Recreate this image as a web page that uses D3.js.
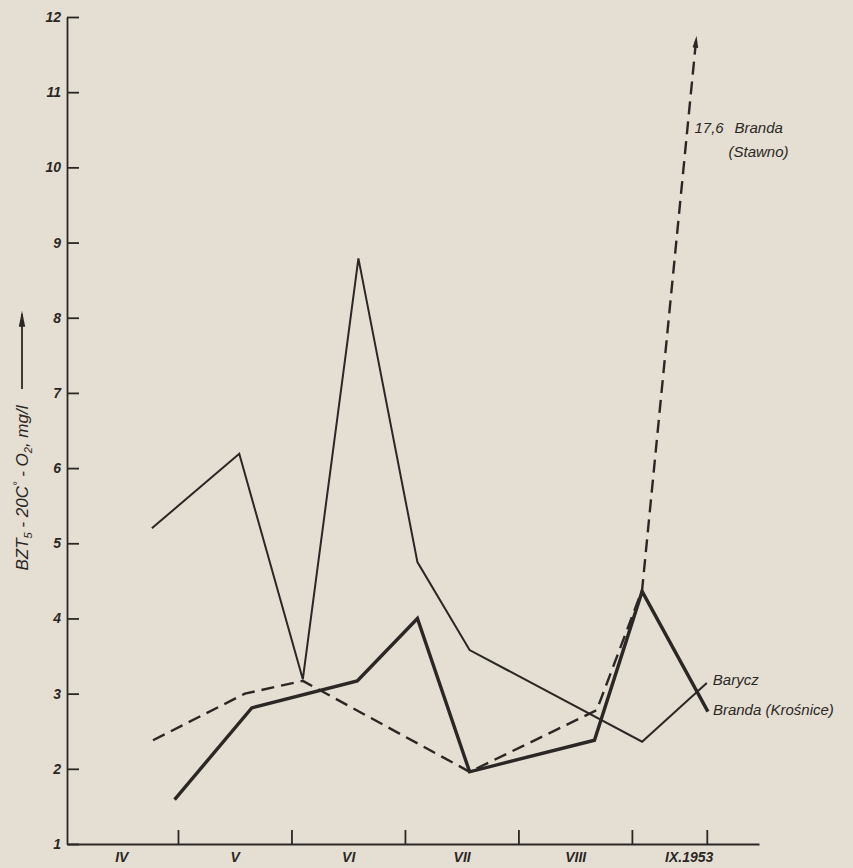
<!DOCTYPE html>
<html>
<head>
<meta charset="utf-8">
<script src="https://cdn.jsdelivr.net/npm/d3@7"></script>
<style>
  body { margin: 0; background: #e5dfd3; }
  svg { display: block; }
  .axis text { font-family: "Liberation Sans Narrow", "Liberation Sans", sans-serif; font-style: italic; font-weight: bold; fill: #2b2724; }
  .axis path, .axis line { stroke: #2b2724; }
  .note { font-family: "Liberation Sans Narrow", "Liberation Sans", sans-serif; font-style: italic; fill: #2b2724; }
</style>
</head>
<body>
<div id="chart"></div>
<script>
// months (4 = start of April), values in mg/l
const yTickValues = [1, 2, 3, 4, 5, 6, 7, 8, 9, 10, 11, 12];
const monthTicks = [5, 6, 7, 8, 9, 9.66];
const monthLabelPos = [4.5, 5.5, 6.5, 7.5, 8.5, 9.5];
const monthLabels = ["IV", "V", "VI", "VII", "VIII", "IX.1953"];

const baryczMonths = [4.77, 5.54, 6.10, 6.59, 7.11, 7.57, 9.09, 9.66];
const baryczValues = [5.2, 6.19, 3.19, 8.79, 4.75, 3.58, 2.36, 3.14];

const krosniceMonths = [4.97, 5.65, 6.58, 7.11, 7.57, 8.67, 9.09, 9.67];
const krosniceValues = [1.59, 2.81, 3.17, 4.0, 1.96, 2.38, 4.36, 2.76];

// last point is off the scale (17,6)
const stawnoMonths = [4.78, 5.59, 6.10, 7.57, 8.69, 9.09, 9.95];
const stawnoValues = [2.38, 3.0, 3.17, 1.96, 2.78, 4.38, 17.6];
const yCut = 11.75;

const width = 853, height = 868;
const ink = "#2b2724";

const svg = d3.select("#chart").append("svg")
  .attr("width", width).attr("height", height);

svg.append("rect").attr("width", width).attr("height", height).attr("fill", "#e5dfd3");

const x = d3.scaleLinear().domain([4.022, 10.12]).range([67, 759]);
const y = d3.scaleLinear().domain([1, 12]).range([844, 17]);

// y axis
svg.append("g").attr("class", "axis")
  .attr("transform", "translate(" + x(4.022) + ",0)")
  .call(d3.axisLeft(y).tickValues(yTickValues).tickSize(-12).tickSizeOuter(0).tickPadding(6).tickFormat(d3.format("d")))
  .call(g => g.selectAll("path, line").attr("stroke-width", 1.8))
  .call(g => g.selectAll("text").attr("font-size", 14));

// x axis: ticks up
svg.append("g").attr("class", "axis")
  .attr("transform", "translate(0," + y(1) + ")")
  .call(d3.axisBottom(x).tickValues(monthTicks).tickSize(-14).tickSizeOuter(0).tickFormat(""))
  .call(g => g.selectAll("path, line").attr("stroke-width", 1.8));

svg.append("g").attr("class", "axis")
  .attr("transform", "translate(0," + y(1) + ")")
  .call(d3.axisBottom(x).tickValues(monthLabelPos).tickSize(0).tickPadding(8)
    .tickFormat((d, i) => monthLabels[i]))
  .call(g => g.select(".domain").remove())
  .call(g => g.selectAll("text").attr("font-size", 14));

// y axis title with arrow
const defs = svg.append("defs");
defs.append("marker").attr("id", "head")
  .attr("viewBox", "0 0 10 10").attr("refX", 10).attr("refY", 5)
  .attr("markerWidth", 12).attr("markerHeight", 12)
  .attr("markerUnits", "userSpaceOnUse").attr("orient", "auto")
  .append("path").attr("d", "M0,2.6 L10,5 L0,7.4 Z").attr("fill", ink);
defs.append("marker").attr("id", "head2")
  .attr("viewBox", "0 0 10 10").attr("refX", 8).attr("refY", 5)
  .attr("markerWidth", 16).attr("markerHeight", 16)
  .attr("markerUnits", "userSpaceOnUse").attr("orient", "auto")
  .append("path").attr("d", "M0,3 L10,5 L0,7 Z").attr("fill", ink);

const title = svg.append("text").attr("class", "note")
  .attr("transform", "translate(28,488) rotate(-90)")
  .attr("text-anchor", "middle").attr("font-size", 17);
title.append("tspan").text("BZT");
title.append("tspan").attr("font-size", 11).attr("dy", 4).text("5");
title.append("tspan").attr("dy", -4).text(" - 20C");
title.append("tspan").attr("font-size", 11).attr("dy", -7).text("°");
title.append("tspan").attr("dy", 7).text(" - O");
title.append("tspan").attr("font-size", 11).attr("dy", 4).text("2");
title.append("tspan").attr("dy", -4).text(", mg/l");

svg.append("line").attr("x1", 22).attr("x2", 22).attr("y1", 389).attr("y2", 314)
  .attr("stroke", ink).attr("stroke-width", 1.8).attr("marker-end", "url(#head2)");

// series
const line = d3.line().x(d => x(d[0])).y(d => y(d[1]));

const barycz = baryczMonths.map((m, i) => [m, baryczValues[i]]);
const krosnice = krosniceMonths.map((m, i) => [m, krosniceValues[i]]);
const stawnoAll = stawnoMonths.map((m, i) => [m, stawnoValues[i]]);

// cut the off-scale segment at yCut
const pA = stawnoAll[stawnoAll.length - 2], pB = stawnoAll[stawnoAll.length - 1];
const t = (yCut - pA[1]) / (pB[1] - pA[1]);
const stawno = stawnoAll.slice(0, -1).concat([[pA[0] + t * (pB[0] - pA[0]), yCut]]);

svg.append("path").datum(stawno).attr("d", line)
  .attr("fill", "none").attr("stroke", ink).attr("stroke-width", 2.4)
  .attr("stroke-dasharray", "13,7").attr("stroke-linejoin", "round")
  .attr("marker-end", "url(#head)");

svg.append("path").datum(barycz).attr("d", line)
  .attr("fill", "none").attr("stroke", ink).attr("stroke-width", 2)
  .attr("stroke-linejoin", "miter");

svg.append("path").datum(krosnice).attr("d", line)
  .attr("fill", "none").attr("stroke", ink).attr("stroke-width", 3.4)
  .attr("stroke-linejoin", "miter");

// labels
const last = a => a[a.length - 1];
svg.append("text").attr("class", "note").attr("font-size", 15)
  .attr("x", x(last(barycz)[0]) + 6).attr("y", y(last(barycz)[1]) + 2)
  .text("Barycz");
svg.append("text").attr("class", "note").attr("font-size", 15)
  .attr("x", x(last(krosnice)[0]) + 5).attr("y", y(last(krosnice)[1]) + 3)
  .text("Branda (Krośnice)");

const sx = x(stawno[stawno.length - 1][0]);
svg.append("text").attr("class", "note").attr("font-size", 15)
  .attr("x", sx - 2).attr("y", 133)
  .text("17,6");
svg.append("text").attr("class", "note").attr("font-size", 15)
  .attr("x", sx + 38).attr("y", 133)
  .text("Branda");
svg.append("text").attr("class", "note").attr("font-size", 15)
  .attr("x", sx + 32).attr("y", 157)
  .text("(Stawno)");
</script>
</body>
</html>
